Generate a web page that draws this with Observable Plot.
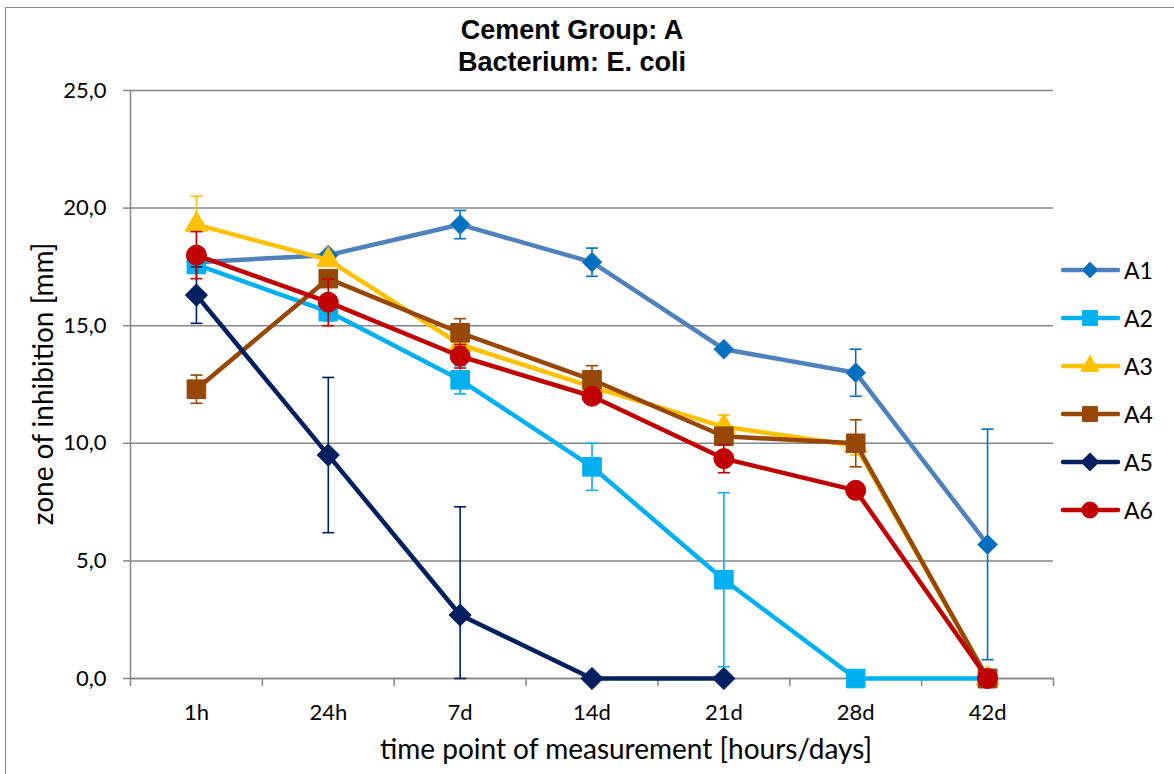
<!DOCTYPE html>
<html>
<head>
<meta charset="utf-8">
<script src="https://cdn.jsdelivr.net/npm/d3@7"></script>
<script src="https://cdn.jsdelivr.net/npm/@observablehq/plot@0.6"></script>
<style>
  html, body { margin: 0; padding: 0; background: #fff; }
  #chart { position: relative; width: 1174px; height: 774px; overflow: hidden; font-family: Lato, "Noto Sans", sans-serif; }
  #frame { position: absolute; left: 5px; top: 7px; width: 1200px; height: 800px; border: 1.5px solid #8c8c8c; box-sizing: border-box; pointer-events: none; }
  .title { position: absolute; left: 572px; transform: translateX(-50%); font: bold 27px "Liberation Sans", Arial, sans-serif; white-space: nowrap; color: #000; }
  .xlabel { position: absolute; left: 626px; top: 731px; transform: translateX(-50%); font-size: 28px; white-space: nowrap; color: #000; }
  .ylabel { position: absolute; left: 42px; top: 384px; transform: translate(-50%, -50%) rotate(-90deg); font-size: 28px; white-space: nowrap; color: #000; }
  .legend-row { position: absolute; left: 1060px; height: 26px; display: flex; align-items: center; }
  .legend-row span { font-size: 23px; margin-left: 2px; color: #000; }
</style>
</head>
<body>
<div id="chart">
  <div id="frame"></div>
  <div class="title" style="top:15px">Cement Group: A</div>
  <div class="title" style="top:47px">Bacterium: E. coli</div>
  <div class="xlabel">time point of measurement [hours/days]</div>
  <div class="ylabel">zone of inhibition [mm]</div>
</div>
<script>
// Measurement time points
const categories = ["1h", "24h", "7d", "14d", "21d", "28d", "42d"];
const seriesNames = ["A1", "A2", "A3", "A4", "A5", "A6"];

// Mean zone of inhibition [mm] per series
const A1 = [17.7, 18.0, 19.3, 17.7, 14.0, 13.0, 5.7];
const A2 = [17.6, 15.6, 12.7, 9.0, 4.2, 0.0, 0.0];
const A3 = [19.3, 17.8, 14.2, 12.4, 10.7, 9.9, 0.0];
const A4 = [12.3, 17.0, 14.7, 12.7, 10.3, 10.0, 0.0];
const A5 = [16.3, 9.5, 2.7, 0.0, 0.0, null, null];
const A6 = [18.0, 16.0, 13.7, 12.0, 9.35, 8.0, 0.0];

// Standard deviations (error bars)
const A1err = [0, 0, 0.6, 0.6, 0, 1.0, 4.9];
const A2err = [0.3, 0.4, 0.6, 1.0, 3.7, 0, 0];
const A3err = [1.2, 0, 0.5, 0, 0.5, 0.4, 0];
const A4err = [0.6, 0, 0.6, 0.6, 0, 1.0, 0];
const A5err = [1.2, 3.3, 4.6, 0, 0, null, null];
const A6err = [1.0, 1.0, 0.5, 0, 0.6, 0, 0];

const yTicks = [0, 5, 10, 15, 20, 25];

const means = [A1, A2, A3, A4, A5, A6];
const errs = [A1err, A2err, A3err, A4err, A5err, A6err];

// Styling per series
const styles = {
  A1: {line: "#4F81BD", fill: "#0070C0", err: "#0070C0", symbol: "diamond2", r: 9},
  A2: {line: "#00B0F0", fill: "#00B0F0", err: "#00B0F0", symbol: "square", r: 10.5},
  A3: {line: "#FFC000", fill: "#FFC000", err: "#FFC000", symbol: "triangle", r: 8.5},
  A4: {line: "#974706", fill: "#974706", err: "#974706", symbol: "square", r: 10.5},
  A5: {line: "#002060", fill: "#002060", err: "#002060", symbol: "diamond2", r: 10},
  A6: {line: "#C00000", fill: "#C00000", err: "#C00000", symbol: "circle", r: 10}
};

const rows = seriesNames.flatMap((s, k) =>
  categories.map((c, i) => ({series: s, i, v: means[k][i], e: errs[k][i]}))
    .filter(d => d.v != null)
);

// horizontal cap drawn as a custom symbol
const capSymbol = {
  draw(context, size) {
    const w = Math.sqrt(size) / 2;
    context.moveTo(-w, 0);
    context.lineTo(w, 0);
  }
};

const idx = categories.map((c, i) => i);
const bounds = d3.range(categories.length + 1).map(i => i - 0.5);
const grey = "#868686";
const fmt = d => d.toFixed(1).replace(".", ",");

const seriesMarks = seriesNames.flatMap(s => {
  const st = styles[s];
  const data = rows.filter(d => d.series === s);
  const withErr = data.filter(d => d.e > 0);
  const caps = withErr.flatMap(d => [
    {i: d.i, y: Math.max(0, d.v - d.e)},
    {i: d.i, y: d.v + d.e}
  ]);
  return [
    Plot.line(data, {x: "i", y: "v", stroke: st.line, strokeWidth: 4.5, strokeLinejoin: "round"}),
    Plot.ruleX(withErr, {x: "i", y1: d => Math.max(0, d.v - d.e), y2: d => d.v + d.e, stroke: st.err, strokeWidth: 1.6}),
    Plot.dot(caps, {x: "i", y: "y", symbol: capSymbol, r: 6.8, fill: "none", stroke: st.err, strokeWidth: 1.6}),
    Plot.dot(data, {x: "i", y: "v", symbol: st.symbol, r: st.r, fill: st.fill, stroke: st.line, strokeWidth: 1})
  ];
});

const plot = Plot.plot({
  width: 1174,
  height: 774,
  marginLeft: 130,
  marginRight: 121,
  marginTop: 90,
  marginBottom: 96,
  x: {domain: [-0.5, categories.length - 0.5]},
  y: {domain: [0, 25]},
  style: {fontFamily: "Lato, 'Noto Sans', sans-serif", fontSize: "22px", color: "#000", background: "transparent"},
  marks: [
    Plot.ruleY(yTicks, {stroke: grey, strokeWidth: 1.5}),
    Plot.axisY({ticks: yTicks, tickSize: 7, tickPadding: 17, stroke: grey, strokeWidth: 1.5, tickFormat: fmt, label: null, fontSize: 22}),
    Plot.axisX({ticks: bounds, tickSize: 8, stroke: grey, strokeWidth: 1.5, tickFormat: () => "", label: null}),
    Plot.axisX({ticks: idx, tickSize: 0, tickPadding: 26, tickFormat: i => categories[i], label: null, fontSize: 22}),
    Plot.ruleX([-0.5], {stroke: grey, strokeWidth: 1.5}),
    Plot.ruleY([0], {stroke: grey, strokeWidth: 1.5}),
    ...seriesMarks
  ]
});
plot.style.position = "absolute";
plot.style.left = "0px";
plot.style.top = "0px";
const chart = document.getElementById("chart");
chart.insertBefore(plot, chart.firstChild);

// Legend
const symbolMap = {diamond2: d3.symbolDiamond2, square: d3.symbolSquare, triangle: d3.symbolTriangle, circle: d3.symbolCircle};
seriesNames.forEach((s, k) => {
  const st = styles[s];
  const row = d3.select(chart).append("div").attr("class", "legend-row").style("top", (257 + k * 48) + "px");
  const svg = row.append("svg").attr("width", 62).attr("height", 26);
  svg.append("line").attr("x1", 3).attr("x2", 58).attr("y1", 13).attr("y2", 13)
    .attr("stroke", st.line).attr("stroke-width", 4.5).attr("stroke-linecap", "round");
  const size = Math.PI * Math.pow(st.r * 0.8, 2);
  svg.append("path").attr("transform", "translate(30,13)")
    .attr("d", d3.symbol(symbolMap[st.symbol], size)())
    .attr("fill", st.fill).attr("stroke", st.line).attr("stroke-width", 1);
  row.append("span").text(s);
});
</script>
</body>
</html>
